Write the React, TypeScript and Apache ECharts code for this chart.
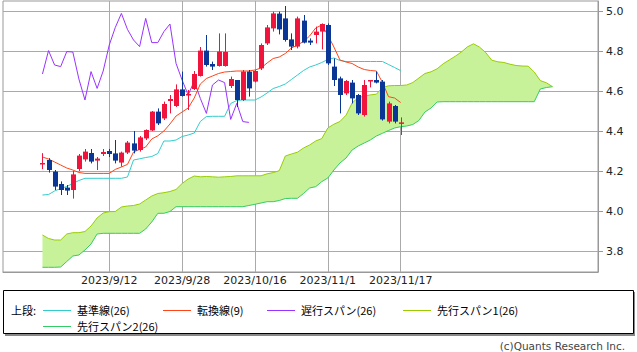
import React, { useEffect, useRef } from "react";
import * as echarts from "echarts";

// x positions are bar indices; labelled bars
const tickIndex = [12, 24, 36, 48, 60];
const tickLabels = ["2023/9/12", "2023/9/28", "2023/10/16", "2023/11/1", "2023/11/17"];
const priceTicks = [3.8, 4.0, 4.2, 4.4, 4.6, 4.8, 5.0];

// candles, bars 1..60
const open = [4.235, 4.255, 4.197, 4.135, 4.117, 4.105, 4.21, 4.258, 4.29, 4.252,
  4.285, 4.3, 4.288, 4.242, 4.292, 4.338, 4.305, 4.363, 4.403, 4.497,
  4.463, 4.55, 4.525, 4.608, 4.58, 4.61, 4.675, 4.802, 4.735, 4.725,
  4.725, 4.625, 4.655, 4.555, 4.697, 4.647, 4.713, 4.838, 4.913, 4.987,
  4.963, 4.858, 4.822, 4.952, 4.852, 4.88, 4.897, 4.93, 4.722, 4.663,
  4.588, 4.642, 4.58, 4.48, 4.648, 4.655, 4.647, 4.447, 4.525, 4.44];
const close = [4.24, 4.205, 4.122, 4.105, 4.102, 4.183, 4.277, 4.297, 4.247, 4.262,
  4.295, 4.285, 4.252, 4.292, 4.342, 4.302, 4.368, 4.405, 4.497, 4.438,
  4.535, 4.56, 4.608, 4.575, 4.585, 4.685, 4.802, 4.73, 4.722, 4.797,
  4.795, 4.66, 4.555, 4.697, 4.613, 4.7, 4.83, 4.918, 4.988, 4.908,
  4.855, 4.822, 4.963, 4.842, 4.842, 4.897, 4.935, 4.738, 4.655, 4.58,
  4.65, 4.563, 4.488, 4.63, 4.655, 4.642, 4.458, 4.538, 4.447, 4.443];
const low = [4.209, 4.192, 4.105, 4.08, 4.08, 4.062, 4.2, 4.247, 4.238, 4.205,
  4.275, 4.27, 4.238, 4.222, 4.285, 4.288, 4.297, 4.355, 4.4, 4.43,
  4.455, 4.488, 4.52, 4.572, 4.505, 4.605, 4.672, 4.722, 4.705, 4.722,
  4.722, 4.615, 4.52, 4.55, 4.572, 4.643, 4.705, 4.83, 4.897, 4.883,
  4.847, 4.805, 4.813, 4.838, 4.83, 4.838, 4.808, 4.73, 4.625, 4.488,
  4.58, 4.538, 4.48, 4.472, 4.618, 4.638, 4.452, 4.438, 4.438, 4.38];
const high = [4.289, 4.264, 4.205, 4.148, 4.13, 4.2, 4.285, 4.31, 4.31, 4.27,
  4.31, 4.31, 4.355, 4.297, 4.35, 4.4, 4.375, 4.408, 4.5, 4.513,
  4.547, 4.58, 4.633, 4.697, 4.605, 4.7, 4.82, 4.88, 4.747, 4.888,
  4.888, 4.672, 4.655, 4.705, 4.705, 4.705, 4.838, 4.93, 4.997, 4.997,
  5.025, 4.888, 4.972, 4.98, 4.863, 4.922, 4.938, 4.938, 4.763, 4.672,
  4.655, 4.655, 4.585, 4.655, 4.655, 4.697, 4.655, 4.547, 4.53, 4.468];

// 転換線(9), bars 1..60
const tenkan = [4.27, 4.26, 4.245, 4.23, 4.215, 4.205, 4.1925, 4.188, 4.188, 4.188,
  4.188, 4.188, 4.208, 4.22, 4.233, 4.295, 4.308, 4.32, 4.36, 4.376,
  4.4, 4.435, 4.475, 4.495, 4.515, 4.565, 4.635, 4.6625, 4.675, 4.6875,
  4.695, 4.6975, 4.7, 4.7, 4.7, 4.705, 4.715, 4.74, 4.7625, 4.77,
  4.7875, 4.815, 4.83, 4.8475, 4.875, 4.915, 4.93, 4.88, 4.82, 4.755,
  4.745, 4.7375, 4.72, 4.7075, 4.7025, 4.7, 4.6425, 4.5715, 4.565, 4.5425];
// 基準線(26), bars 1..60
const kijun = [4.08, 4.0825, 4.1, 4.1125, 4.1225, 4.1375, 4.1525, 4.1635, 4.1635, 4.1635,
  4.1635, 4.1635, 4.1635, 4.1635, 4.17, 4.255, 4.261, 4.2675, 4.2725, 4.2875,
  4.35, 4.35, 4.355, 4.3725, 4.38, 4.39, 4.4475, 4.4725, 4.4735, 4.4735,
  4.4735, 4.5375, 4.5525, 4.555, 4.555, 4.555, 4.57, 4.59, 4.6125, 4.6225,
  4.635, 4.6575, 4.68, 4.7025, 4.72, 4.73, 4.7425, 4.7575, 4.765, 4.7525,
  4.7475, 4.7475, 4.7475, 4.7475, 4.7475, 4.7475, 4.7475, 4.7325, 4.7175, 4.7015];
// 遅行スパン(26), bars 1..35
const chikou = [4.685, 4.802, 4.73, 4.722, 4.797, 4.795, 4.66, 4.555, 4.697, 4.613,
  4.7, 4.83, 4.918, 4.988, 4.908, 4.855, 4.822, 4.963, 4.842, 4.842,
  4.897, 4.935, 4.738, 4.655, 4.58, 4.65, 4.563, 4.488, 4.63, 4.655,
  4.642, 4.458, 4.538, 4.447, 4.443];
// 先行スパン1(26), bars 1..85
const senkouA = [3.88, 3.8625, 3.855, 3.855, 3.885, 3.8915, 3.8915, 3.8975, 3.925, 3.965,
  3.99, 3.9965, 3.9975, 4.02, 4.025, 4.0275, 4.035, 4.055, 4.075, 4.0875,
  4.0915, 4.0975, 4.1075, 4.1375, 4.16, 4.175, 4.171, 4.1725, 4.171, 4.169,
  4.171, 4.1725, 4.176, 4.176, 4.176, 4.176, 4.176, 4.186, 4.192, 4.2015,
  4.275, 4.285, 4.294, 4.315, 4.33, 4.35, 4.362, 4.415, 4.434, 4.4475,
  4.479, 4.54, 4.5675, 4.574, 4.5805, 4.584, 4.6175, 4.626, 4.6275, 4.6275,
  4.63, 4.6425, 4.665, 4.6875, 4.696, 4.711, 4.736, 4.755, 4.774, 4.795,
  4.821, 4.836, 4.819, 4.7925, 4.754, 4.746, 4.7425, 4.734, 4.7275, 4.725,
  4.724, 4.695, 4.652, 4.641, 4.622];
// 先行スパン2(26), bars 1..85
const senkouB = [3.7185, 3.7185, 3.7185, 3.72, 3.7475, 3.775, 3.78, 3.805, 3.835, 3.885,
  3.8885, 3.8885, 3.8885, 3.8885, 3.8885, 3.8885, 3.8885, 3.91, 3.945, 3.9885,
  3.9885, 3.9975, 4.0215, 4.0215, 4.0215, 4.0215, 4.0215, 4.0215, 4.0215, 4.0215,
  4.0215, 4.0215, 4.0215, 4.0215, 4.0275, 4.0335, 4.04, 4.0465, 4.0465, 4.0525,
  4.0625, 4.0635, 4.0635, 4.0875, 4.115, 4.1215, 4.1465, 4.165, 4.205, 4.24,
  4.265, 4.305, 4.325, 4.34, 4.355, 4.375, 4.3885, 4.4025, 4.415, 4.4215,
  4.425, 4.4325, 4.4525, 4.495, 4.515, 4.545, 4.5465, 4.5465, 4.5465, 4.5465,
  4.5465, 4.5465, 4.5465, 4.5465, 4.5465, 4.5465, 4.5465, 4.5465, 4.5465, 4.5465,
  4.5465, 4.5465, 4.61, 4.6175, 4.6215];

const C_UP = "#f0143c";
const C_DOWN = "#0a3796";
const C_TENKAN = "#ff4419";
const C_KIJUN = "#33cccc";
const C_CHIKOU = "#9933ff";
const C_SA = "#99cc00";
const C_SB = "#33cc66";
const C_KUMO = "#c8f29a";
const C_GRID = "#aaaaaa";

const AXIS_FONT = "DejaVu Sans";
const JP_FONT = "Noto Sans CJK JP";

const pts = (arr: number[]) => arr.map((v, k) => [k + 1, v]);

export default function App() {
  const ref = useRef<HTMLDivElement>(null);
  useEffect(() => {
    document.body.style.margin = "0";
    if (!ref.current) return;
    const chart = echarts.init(ref.current, undefined, { renderer: "svg" });
    const candles = open.map((o, k) => [k + 1, o, close[k], low[k], high[k]]);
    const kumoRows = senkouA.map((a, k) => [k + 1, a, senkouB[k]]);
    const lineBase = {
      type: "line",
      symbol: "none",
      silent: true,
      animation: false,
      z: 3,
    };
    const legendRow1 = 310;
    const legendRow2 = 326;
    const legendItems = [
      { x: 43, y: legendRow1, color: C_KIJUN, text: "基準線(26)" },
      { x: 163, y: legendRow1, color: C_TENKAN, text: "転換線(9)" },
      { x: 267, y: legendRow1, color: C_CHIKOU, text: "遅行スパン(26)" },
      { x: 403, y: legendRow1, color: C_SA, text: "先行スパン1(26)" },
      { x: 43, y: legendRow2, color: C_SB, text: "先行スパン2(26)" },
    ];
    const graphics: any[] = [
      { type: "rect", z: 1, shape: { x: 5, y: 292, width: 630, height: 44 }, style: { fill: "#888" }, silent: true },
      { type: "rect", z: 2, shape: { x: 3.5, y: 290.5, width: 630, height: 43 }, style: { fill: "#fff", stroke: "#000", lineWidth: 1 }, silent: true },
      { type: "text", z: 3, x: 11, y: legendRow1, style: { text: "上段:", font: `11px "${JP_FONT}"`, fill: "#000", textVerticalAlign: "middle" }, silent: true },
    ];
    legendItems.forEach((it) => {
      graphics.push({ type: "rect", z: 3, shape: { x: it.x, y: it.y, width: 28, height: 1 }, style: { fill: it.color }, silent: true });
      graphics.push({ type: "text", z: 3, x: it.x + 34, y: it.y, style: { text: it.text, font: `11px "${JP_FONT}"`, fill: "#000", textVerticalAlign: "middle" }, silent: true });
    });
    graphics.push({ type: "text", x: 625, y: 346, style: { text: "(c)Quants Research Inc.", font: `10.5px "${AXIS_FONT}"`, fill: "#444", textAlign: "right", textVerticalAlign: "middle" }, silent: true });

    const gridLines = [
      ...tickIndex.map((v) => ({ xAxis: v })),
      ...priceTicks.map((v) => ({ yAxis: v })),
    ];

    chart.setOption({
      animation: false,
      backgroundColor: "#fff",
      grid: { left: 3, right: 39, top: 1, height: 271, show: true, borderColor: "#999", borderWidth: 1, backgroundColor: "transparent" },
      xAxis: {
        type: "value",
        min: -5.5,
        max: 92.5,
        axisLine: { show: true, onZero: false, lineStyle: { color: "#999" } },
        axisTick: { show: false, customValues: tickIndex },
        axisLabel: {
          customValues: tickIndex,
          color: "#222",
          fontFamily: AXIS_FONT,
          fontSize: 11,
          margin: 3,
          formatter: (v: number) => {
            const k = tickIndex.indexOf(Math.round(v));
            return k >= 0 ? tickLabels[k] : "";
          },
        },
        splitLine: { show: false },
      },
      yAxis: {
        type: "value",
        position: "right",
        min: 3.695,
        max: 5.05,
        axisLine: { show: true, onZero: false, lineStyle: { color: "#999" } },
        axisTick: { show: true, length: 5, customValues: priceTicks, lineStyle: { color: "#999" } },
        axisLabel: {
          customValues: priceTicks,
          color: "#222",
          fontFamily: AXIS_FONT,
          fontSize: 11,
          margin: 8,
          formatter: (v: number) => v.toFixed(1),
        },
        splitLine: { show: false },
      },
      graphic: graphics,
      series: [
        {
          type: "line",
          name: "grid",
          data: [],
          silent: true,
          z: 1,
          markLine: {
            silent: true,
            z: 1,
            symbol: ["none", "none"],
            label: { show: false },
            animation: false,
            lineStyle: { color: C_GRID, type: "solid", width: 1 },
            emphasis: { disabled: true },
            data: gridLines,
          },
        },
        {
          type: "custom",
          name: "kumo",
          silent: true,
          z: 2,
          data: kumoRows,
          encode: { x: 0, y: [1, 2] },
          renderItem: (params: any, api: any) => {
            if (params.dataIndex !== 0) return null;
            const upper = kumoRows.map((r) => api.coord([r[0], r[1]]));
            const lower = kumoRows.map((r) => api.coord([r[0], r[2]])).reverse();
            return {
              type: "polygon",
              shape: { points: upper.concat(lower) },
              style: { fill: C_KUMO, stroke: "none" },
            };
          },
        },
        { ...lineBase, name: "先行スパン2(26)", data: pts(senkouB), lineStyle: { color: C_SB, width: 1 } },
        { ...lineBase, name: "先行スパン1(26)", data: pts(senkouA), lineStyle: { color: C_SA, width: 1 } },
        { ...lineBase, name: "基準線(26)", data: pts(kijun), lineStyle: { color: C_KIJUN, width: 1 } },
        { ...lineBase, name: "転換線(9)", data: pts(tenkan), lineStyle: { color: C_TENKAN, width: 1 } },
        { ...lineBase, name: "遅行スパン(26)", data: pts(chikou), lineStyle: { color: C_CHIKOU, width: 1 } },
        {
          type: "custom",
          name: "price",
          silent: true,
          z: 4,
          data: candles,
          encode: { x: 0, y: [1, 2, 3, 4] },
          renderItem: (params: any, api: any) => {
            const x = api.value(0);
            const o = api.value(1);
            const c = api.value(2);
            const l = api.value(3);
            const h = api.value(4);
            const pO = api.coord([x, o]);
            const pC = api.coord([x, c]);
            const pL = api.coord([x, l]);
            const pH = api.coord([x, h]);
            const color = c >= o ? C_UP : C_DOWN;
            const xc = Math.round(pO[0]) + 0.5;
            const w = 5;
            const top = Math.min(pO[1], pC[1]);
            const bot = Math.max(pO[1], pC[1]);
            return {
              type: "group",
              children: [
                { type: "line", shape: { x1: xc, y1: pH[1], x2: xc, y2: pL[1] }, style: { stroke: color, lineWidth: 1 } },
                { type: "rect", shape: { x: xc - w / 2, y: top, width: w, height: Math.max(bot - top, 1.5) }, style: { fill: color } },
              ],
            };
          },
        },
      ],
    });
    return () => chart.dispose();
  }, []);
  return <div ref={ref} style={{ width: 637, height: 352 }} />;
}
